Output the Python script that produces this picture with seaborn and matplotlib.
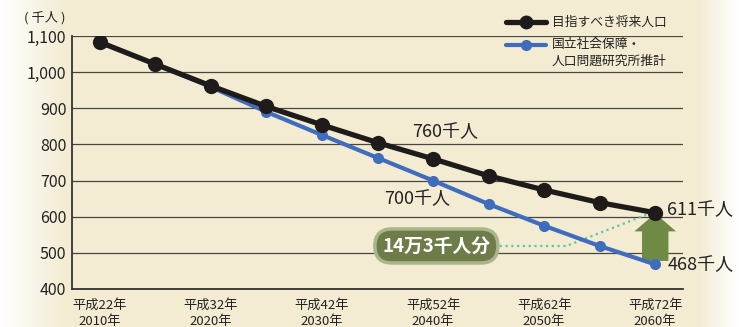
import numpy as np
import pandas as pd
import seaborn as sns
import matplotlib.pyplot as plt

# Data
years = [2010, 2015, 2020, 2025, 2030, 2035, 2040, 2045, 2050, 2055, 2060]
target = [1083, 1022, 962, 905, 854, 805, 760, 713, 674, 639, 611]
ipss = [1083, 1022, 959, 890, 826, 763, 700, 635, 575, 519, 468]
tick_years = [2010, 2020, 2030, 2040, 2050, 2060]
tick_labels = ['平成22年\n2010年', '平成32年\n2020年', '平成42年\n2030年',
               '平成52年\n2040年', '平成62年\n2050年', '平成72年\n2060年']
series_names = ['目指すべき将来人口', '国立社会保障・\n人口問題研究所推計']

df_target = pd.DataFrame({'year': years, 'pop': target})
df_ipss = pd.DataFrame({'year': years, 'pop': ipss})

sns.set_style('white')
plt.rcParams['font.family'] = ['Noto Sans CJK JP', 'DejaVu Sans']

cream = np.array([243, 236, 211]) / 255
black = '#1f1b1a'
blue = '#3f6cbc'
green = '#6f8a45'

fig = plt.figure(figsize=(7.39, 3.27), dpi=100)

# background with white fade on the left and right edges
bg = fig.add_axes([0, 0, 1, 1], zorder=-10)
xs = np.linspace(0, 739, 739)
w = np.clip(xs / 65, 0, 1) * np.clip((739 - xs) / 40, 0, 1)
img = 1 - w[None, :, None] * (1 - cream[None, None, :])
bg.imshow(img, aspect='auto', extent=[0, 1, 0, 1])
bg.axis('off')

ax = fig.add_axes([72 / 739, 1 - 289 / 327, 611 / 739, 253 / 327])
ax.set_facecolor('none')

sns.lineplot(data=df_ipss, x='year', y='pop', ax=ax, color=blue, lw=3,
             marker='o', markersize=8, markeredgewidth=0, zorder=3)
sns.lineplot(data=df_target, x='year', y='pop', ax=ax, color=black, lw=3.8,
             marker='o', markersize=11, markeredgewidth=0, zorder=4)

ax.set_xlim(2007.5, 2062.5)
ax.set_ylim(400, 1100)
ax.set_yticks(range(400, 1101, 100))
ax.set_yticklabels([f'{v:,}' for v in range(400, 1101, 100)], fontsize=11.5,
                   color='#222222')
ax.set_xticks(tick_years)
ax.set_xticklabels(tick_labels, fontsize=9.5, color='#222222', linespacing=1.35)
ax.set_xticks(np.arange(2012.5, 2060, 5), minor=True)
ax.tick_params(axis='x', which='major', length=0, pad=7)
ax.tick_params(axis='x', which='minor', length=7, width=1.2, direction='in',
               color='#333333')
ax.tick_params(axis='y', length=0, pad=4)
ax.set_xlabel('')
ax.set_ylabel('')
ax.grid(axis='y', color='#4a4540', lw=0.9)
ax.set_axisbelow(True)
for side in ['top', 'right']:
    ax.spines[side].set_visible(False)
for side in ['left', 'bottom']:
    ax.spines[side].set_color('#333333')
    ax.spines[side].set_linewidth(1.3)

fig.text(24 / 739, 1 - 18 / 327, '( 千人 )', fontsize=9.5, color='#222222',
         va='center')

# value labels
ax.text(2038.1, 833, '760千人', fontsize=13, color='#222222', va='center')
ax.text(2035.6, 650, '700千人', fontsize=13, color='#222222', va='center')
ax.text(2061.1, 617, '611千人', fontsize=13, color='#222222', va='center',
        clip_on=False)
ax.text(2061.1, 466, '468千人', fontsize=13, color='#222222', va='center',
        clip_on=False)

# gap arrow
ax.annotate('', xy=(2060, 617), xytext=(2060, 470),
            arrowprops=dict(arrowstyle='simple,head_width=3.0,head_length=1.3,tail_width=1.9',
                            mutation_scale=10, color=green, lw=0),
            zorder=2)

# dotted connector and the gap box
ax.plot([2046.0, 2052.0, 2059.5], [519, 519, 609], ls=(0, (1, 1.6)),
        color='#5cc6a0', lw=1.6, zorder=2)
ax.text(2040.3, 519, '14万3千人分', fontsize=13.5, fontweight='bold',
        color='white', ha='center', va='center', zorder=5,
        bbox=dict(boxstyle='round,pad=0.4,rounding_size=0.9',
                  fc='#6e7c4a', ec='#aab68a', lw=2.5))

# legend drawn by hand
fig.lines.append(plt.Line2D([506 / 739, 546 / 739], [1 - 22 / 327] * 2,
                            color=black, lw=3.8, marker='', transform=fig.transFigure))
fig.lines.append(plt.Line2D([526 / 739], [1 - 22 / 327], color=black,
                            marker='o', markersize=9, transform=fig.transFigure))
fig.text(552 / 739, 1 - 22 / 327, series_names[0], fontsize=9.2,
         color='#222222', va='center')
fig.lines.append(plt.Line2D([506 / 739, 546 / 739], [1 - 45 / 327] * 2,
                            color=blue, lw=3, transform=fig.transFigure))
fig.lines.append(plt.Line2D([526 / 739], [1 - 45 / 327], color=blue,
                            marker='o', markersize=7, transform=fig.transFigure))
fig.text(552 / 739, 1 - 53 / 327, series_names[1], fontsize=9.2,
         color='#222222', va='center', linespacing=1.4)

fig.savefig('out.png', dpi=100)
